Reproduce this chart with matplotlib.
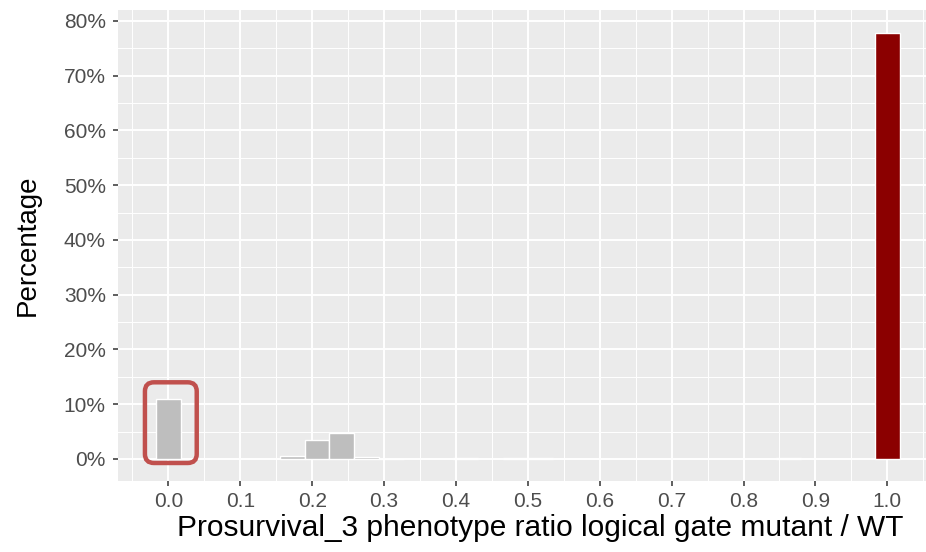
import matplotlib
matplotlib.use("Agg")
import matplotlib.pyplot as plt
from matplotlib.patches import FancyBboxPatch
from matplotlib.ticker import FixedLocator, FuncFormatter

plt.rcParams["font.family"] = ["Liberation Sans", "DejaVu Sans"]

# histogram bins (binwidth 1/29, centred on 0 and 1) and share of mutants per bin
bin_width = 1 / 29
bin_centers = [0.0, 0.1724, 0.2069, 0.2414, 0.2759, 0.3103, 0.4138, 0.4828,
               0.5172, 0.8621, 1.0]
percentages = [10.9, 0.5, 3.5, 4.7, 0.3, 0.05, 0.2, 0.1, 0.15, 0.15, 77.8]
highlight_bin = 0.0

GREY_FILL = "#BEBEBE"
RED_FILL = "#8B0000"
PANEL = "#EBEBEB"
BOX_RED = "#C0504D"

W, H, DPI = 926, 552, 100
fig = plt.figure(figsize=(W / DPI, H / DPI), dpi=DPI)

# panel in pixel units (runs off the right edge)
left, right, top, bottom = 118, 926, 10, 481
ax = fig.add_axes([left / W, 1 - bottom / H, (right - left) / W, (bottom - top) / H])
ax.set_facecolor(PANEL)
for s in ax.spines.values():
    s.set_visible(False)

xlim = (-0.0700, 1.0538)
ylim = (-4.02, 82.0)
ax.set_xlim(*xlim)
ax.set_ylim(*ylim)

xt = [i / 10 for i in range(11)]
yt = list(range(0, 81, 10))
ax.xaxis.set_major_locator(FixedLocator(xt))
ax.xaxis.set_minor_locator(FixedLocator([x + 0.05 for x in xt] + [-0.05]))
ax.yaxis.set_major_locator(FixedLocator(yt))
ax.yaxis.set_minor_locator(FixedLocator([y + 5 for y in yt]))
ax.xaxis.set_major_formatter(FuncFormatter(lambda v, p: f"{v:.1f}"))
ax.yaxis.set_major_formatter(FuncFormatter(lambda v, p: f"{v:.0f}%"))

ax.grid(which="major", color="white", linewidth=1.4)
ax.grid(which="minor", color="white", linewidth=0.7)
ax.set_axisbelow(True)
ax.tick_params(which="major", length=3.8, width=1.1, color="#333333",
               labelcolor="#4D4D4D", labelsize=15)
ax.tick_params(axis="x", which="major", pad=4)
ax.tick_params(axis="y", which="major", pad=5)
ax.tick_params(which="minor", length=0)

colors = [RED_FILL if c == 1.0 else GREY_FILL for c in bin_centers]
ax.bar(bin_centers, percentages, width=bin_width, color=colors,
       edgecolor="white", linewidth=1.0, zorder=2)

# rounded highlight around the zero-ratio bin
ax_w_px = right - left
ax_h_px = bottom - top
x_per_px = (xlim[1] - xlim[0]) / ax_w_px
y_per_px = (ylim[1] - ylim[0]) / ax_h_px
hv = percentages[bin_centers.index(highlight_bin)]
bx0 = highlight_bin - bin_width / 2 - 11 * x_per_px
bx1 = highlight_bin + bin_width / 2 + 16 * x_per_px
by0 = -4 * y_per_px
by1 = hv + 17 * y_per_px
aspect = y_per_px / x_per_px
box = FancyBboxPatch((bx0, by0), bx1 - bx0, by1 - by0,
                     boxstyle=f"round,pad=0,rounding_size={9 * x_per_px}",
                     mutation_aspect=aspect, facecolor="none",
                     edgecolor=BOX_RED, linewidth=3.2, zorder=3)
ax.add_patch(box)

ax.set_xlabel("Prosurvival_3 phenotype ratio logical gate mutant / WT",
              fontsize=21.5, color="black")
ax.xaxis.set_label_coords((540 - left) / ax_w_px, -(528 - bottom) / ax_h_px)
ax.xaxis.label.set_va("center")
ax.set_ylabel("Percentage", fontsize=20, color="black")
ax.yaxis.set_label_coords(-(left - 28) / ax_w_px, 0.5)
ax.yaxis.label.set_va("center")

fig.savefig("out.png", dpi=DPI)
